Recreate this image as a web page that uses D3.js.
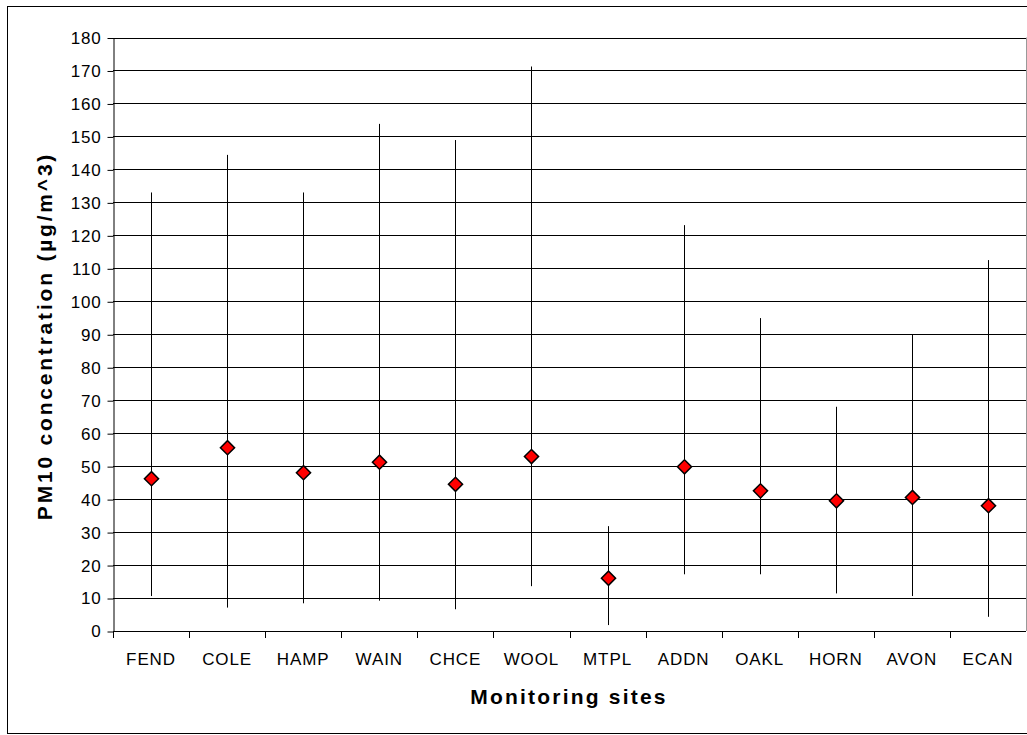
<!DOCTYPE html>
<html><head><meta charset="utf-8">
<script src="https://cdn.jsdelivr.net/npm/d3@7"></script>
<style>body{margin:0;background:#fff}svg{display:block}text{font-family:"Liberation Sans",Arial,sans-serif}</style>
</head><body>
<svg id="c" width="1027" height="735"></svg>
<script>
const sites = ["FEND","COLE","HAMP","WAIN","CHCE","WOOL","MTPL","ADDN","OAKL","HORN","AVON","ECAN"];
const meanVals = [46.2,55.6,48.0,51.2,44.5,52.9,16.0,49.8,42.5,39.5,40.5,38.0];
const maxVals  = [133.0,144.4,133.0,153.8,148.9,171.2,31.8,123.1,94.9,68.0,90.0,112.5];
const minVals  = [10.6,7.1,8.4,9.2,6.6,13.6,1.8,17.2,17.2,11.4,10.6,4.3];
const yTicks = d3.range(0,181,10);

const svg = d3.select("#c");
const L=113, R=1026, T=37.5, B=631;
svg.append("rect").attr("x",7.5).attr("y",6.5).attr("width",1030).attr("height",727).attr("fill","none").attr("stroke","#000");

const x = d3.scaleBand().domain(sites).range([L,R]).padding(0);
const y = d3.scaleLinear().domain([0,180]).range([B,T]);

// gridlines
svg.append("g").selectAll("line").data(yTicks.filter(d=>d>0)).join("line")
  .attr("x1",L).attr("x2",R).attr("y1",d=>Math.round(y(d))+0.5).attr("y2",d=>Math.round(y(d))+0.5)
  .attr("stroke","#000").attr("stroke-width",1);
// right border
svg.append("line").attr("x1",R+0.5).attr("x2",R+0.5).attr("y1",T).attr("y2",B).attr("stroke","#999");

// y axis
const yAxis = d3.axisLeft(y).tickValues(yTicks).tickSize(6).tickPadding(6).tickSizeOuter(0);
const gy = svg.append("g").attr("transform",`translate(${L+0.5},0.5)`).call(yAxis);
gy.selectAll("text").attr("font-size",17).attr("letter-spacing","0.8px").attr("fill","#000");
gy.select(".domain").attr("stroke","#000");

// x axis
const bounds = sites.map(s=>x(s));
const gx = svg.append("g");
gx.append("line").attr("x1",L).attr("x2",R).attr("y1",Math.round(B)+0.5).attr("y2",Math.round(B)+0.5).attr("stroke","#000");
gx.selectAll("line.t").data(bounds).join("line").attr("class","t")
  .attr("x1",d=>Math.round(d)+0.5).attr("x2",d=>Math.round(d)+0.5).attr("y1",B).attr("y2",B+7).attr("stroke","#000");
gx.selectAll("text").data(sites).join("text")
  .attr("x",d=>x(d)+x.bandwidth()/2).attr("y",665).attr("text-anchor","middle")
  .attr("font-size",17).attr("letter-spacing","0.9px").text(d=>d);

// range lines
svg.append("g").selectAll("line").data(sites).join("line")
  .attr("x1",(d)=>Math.round(x(d)+x.bandwidth()/2)+0.5).attr("x2",(d)=>Math.round(x(d)+x.bandwidth()/2)+0.5)
  .attr("y1",(d,i)=>y(maxVals[i])).attr("y2",(d,i)=>y(minVals[i])).attr("stroke","#000").attr("stroke-width",1);

// diamonds
svg.append("g").selectAll("path").data(sites).join("path")
  .attr("d",d3.symbol().type(d3.symbolSquare).size(100))
  .attr("transform",(d,i)=>`translate(${Math.round(x(d)+x.bandwidth()/2)+0.5},${y(meanVals[i])}) rotate(45)`)
  .attr("fill","#ff0000").attr("stroke","#000").attr("stroke-width",1.5);

// titles
svg.append("text").attr("x",569).attr("y",704).attr("text-anchor","middle")
  .attr("font-size",21).attr("font-weight","bold").attr("letter-spacing","2.2px").text("Monitoring sites");
svg.append("text").attr("transform","translate(52,336) rotate(-90)").attr("text-anchor","middle")
  .attr("font-size",21).attr("font-weight","bold").attr("letter-spacing","2.8px").text("PM10 concentration (µg/m^3)");
</script>
</body></html>
